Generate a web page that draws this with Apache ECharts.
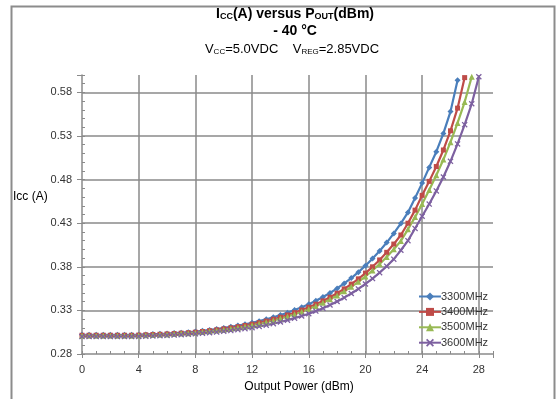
<!DOCTYPE html>
<html><head><meta charset="utf-8">
<script src="https://cdn.jsdelivr.net/npm/echarts@6/dist/echarts.min.js"></script>
<style>html,body{margin:0;padding:0;background:#fff}#c{width:557px;height:399px}</style>
</head><body><div id="c"></div>
<script>
// Output power steps (dBm)
const xSteps = [0,0.5,1,1.5,2,2.5,3,3.5,4,4.5,5,5.5,6,6.5,7,7.5,8,8.5,9,9.5,10,10.5,11,11.5,12,12.5,13,13.5,14,14.5,15,15.5,16,16.5,17,17.5,18,18.5,19,19.5,20,20.5,21,21.5,22,22.5,23,23.5,24,24.5,25,25.5,26,26.5,27,27.5,28];
const seriesNames = ['3300MHz','3400MHz','3500MHz','3600MHz'];
const icc3300 = [0.302,0.302,0.302,0.302,0.302,0.302,0.302,0.302,0.3022,0.3025,0.3028,0.3031,0.3035,0.304,0.3045,0.305,0.3057,0.3066,0.3076,0.3087,0.3099,0.3112,0.3126,0.3141,0.3158,0.3177,0.3198,0.3221,0.3246,0.3274,0.3304,0.3336,0.3371,0.341,0.3453,0.35,0.3552,0.3609,0.3671,0.3739,0.3813,0.3894,0.3982,0.4078,0.4183,0.4298,0.4424,0.459,0.476,0.494,0.512,0.533,0.558,0.594];
const icc3400 = [0.3015,0.3015,0.3015,0.3015,0.3015,0.3015,0.3015,0.3015,0.3017,0.302,0.3023,0.3026,0.303,0.3034,0.3039,0.3044,0.305,0.3058,0.3067,0.3077,0.3088,0.31,0.3113,0.3127,0.3142,0.3159,0.3178,0.3199,0.3222,0.3247,0.3274,0.3304,0.3336,0.3371,0.3409,0.3451,0.3497,0.3547,0.3602,0.3662,0.3728,0.38,0.3879,0.3966,0.4061,0.4165,0.430,0.445,0.462,0.478,0.495,0.514,0.536,0.562,0.597];
const icc3500 = [0.301,0.301,0.301,0.301,0.301,0.301,0.301,0.301,0.3012,0.3015,0.3018,0.3021,0.3025,0.3029,0.3034,0.3039,0.3045,0.3052,0.306,0.3069,0.3079,0.309,0.3102,0.3115,0.313,0.3146,0.3164,0.3184,0.3206,0.323,0.3256,0.3285,0.3316,0.335,0.3387,0.3427,0.3471,0.3519,0.3571,0.3628,0.369,0.3758,0.3832,0.3913,0.4001,0.4097,0.423,0.437,0.452,0.468,0.485,0.503,0.523,0.545,0.569,0.598];
const icc3600 = [0.300,0.300,0.300,0.300,0.300,0.300,0.300,0.300,0.3002,0.3004,0.3007,0.301,0.3013,0.3017,0.3021,0.3026,0.3031,0.3037,0.3044,0.3052,0.306,0.3069,0.3079,0.309,0.3102,0.3116,0.3131,0.3148,0.3167,0.3188,0.3211,0.3236,0.3262,0.3292,0.3325,0.3362,0.3402,0.3446,0.3494,0.3546,0.3603,0.3665,0.3733,0.3807,0.3888,0.399,0.410,0.424,0.438,0.452,0.467,0.483,0.501,0.521,0.543,0.567,0.598];
const xTickLabels = [0,4,8,12,16,20,24,28];
const yTickLabels = ['0.28','0.33','0.38','0.43','0.48','0.53','0.58'];

const colors = ['#4A7EBB','#BE4B48','#98B954','#7D60A0'];
const symbols = ['diamond','rect','triangle','path://M0,1.5L1.5,0L5,3.5L8.5,0L10,1.5L6.5,5L10,8.5L8.5,10L5,6.5L1.5,10L0,8.5L3.5,5Z'];
const symSizes = [6,5,6,6];
const allY = [icc3300, icc3400, icc3500, icc3600];

const chart = echarts.init(document.getElementById('c'), null, {renderer:'canvas'});
const FONT = 'Liberation Sans';
const gridCol = '#8a8a8a';
const option = {
  animation: false,
  textStyle: {fontFamily: FONT},
  grid: {left: 82, right: 64, top: 75, bottom: 45, containLabel: false},
  xAxis: [
    {type:'value', min:0, max:29, interval:1, position:'bottom',
     axisLine:{show:true, lineStyle:{color:gridCol, width:1.5}},
     axisTick:{show:true, inside:true, length:3, lineStyle:{color:gridCol}},
     axisLabel:{margin:10, fontSize:11, color:'#333', fontFamily:FONT,
       formatter: v => xTickLabels.indexOf(Math.round(v)) >= 0 && Math.abs(v-Math.round(v))<1e-6 ? String(Math.round(v)) : ''},
     splitLine:{show:false}},
    {type:'value', min:0, max:29, interval:4, position:'bottom',
     axisLine:{show:false},
     axisTick:{show:true, inside:false, length:4, lineStyle:{color:gridCol}},
     axisLabel:{show:false},
     splitLine:{show:true, showMinLine:false, showMaxLine:false, lineStyle:{color:gridCol, width:1.5}}}
  ],
  yAxis: [
    {type:'value', min:0.28, max:0.6, interval:0.01, position:'left',
     axisLine:{show:true, lineStyle:{color:gridCol, width:1.5}},
     axisTick:{show:true, inside:true, length:3, lineStyle:{color:gridCol}},
     axisLabel:{margin:10, fontSize:11, color:'#333', fontFamily:FONT,
       formatter: v => { const s=(Math.round(v*100)/100).toFixed(2); return yTickLabels.indexOf(s)>=0 ? s : ''; }},
     splitLine:{show:false}},
    {type:'value', min:0, max:0.32, interval:0.05, position:'left',
     axisLine:{show:false},
     axisTick:{show:true, inside:false, length:5, lineStyle:{color:gridCol}},
     axisLabel:{show:false},
     splitLine:{show:true, showMinLine:false, showMaxLine:false, lineStyle:{color:gridCol, width:1.5}}}
  ],
  legend: {
    orient:'vertical', left:413, top:286, itemWidth:22, itemHeight:10, itemGap:4.4,
    textStyle:{fontSize:11, color:'#333', fontFamily:FONT, padding:[0,0,0,-5]},
    data: seriesNames
  },
  series: seriesNames.map((n,i) => ({
    name:n, type:'line', xAxisIndex:0, yAxisIndex:0,
    data: allY[i].map((y,k) => [xSteps[k], y]),
    symbol: symbols[i], symbolSize: symSizes[i], showAllSymbol:true,
    lineStyle:{color:colors[i], width:2.2},
    itemStyle:{color:colors[i], borderColor:colors[i], borderWidth:0},
    color: colors[i], clip:true
  })),
  graphic: [
    {type:'rect', left:9, top:4, shape:{width:543, height:400}, style:{fill:'none', stroke:'#8c8c8c', lineWidth:2}, silent:true},
    {type:'text', x:295, y:13, style:{
      text:'{a|I}{s|CC}{a|(A) versus P}{s|OUT}{a|(dBm)}', align:'center', verticalAlign:'middle',
      rich:{a:{fontSize:14, fontWeight:'bold', fontFamily:FONT, fill:'#000', lineHeight:17, verticalAlign:'bottom'},
            s:{fontSize:9, fontWeight:'bold', fontFamily:FONT, fill:'#000', lineHeight:11, verticalAlign:'bottom'}}}},
    {type:'text', x:295, y:31, style:{text:'- 40 \u00b0C', align:'center', verticalAlign:'middle',
      font:'bold 14px "Liberation Sans"', fill:'#000'}},
    {type:'text', x:292, y:48, style:{
      text:'{a|V}{s|CC}{a|=5.0VDC    V}{s|REG}{a|=2.85VDC}', align:'center', verticalAlign:'middle',
      rich:{a:{fontSize:13, fontFamily:FONT, fill:'#000', lineHeight:16, verticalAlign:'bottom'},
            s:{fontSize:8, fontFamily:FONT, fill:'#000', lineHeight:10, verticalAlign:'bottom'}}}},
    {type:'text', x:13, y:197, style:{text:'Icc (A)', align:'left', verticalAlign:'middle',
      font:'12px "Liberation Sans"', fill:'#000'}},
    {type:'text', x:299, y:387, style:{text:'Output Power (dBm)', align:'center', verticalAlign:'middle',
      font:'12px "Liberation Sans"', fill:'#000'}}
  ]
};
chart.setOption(option);
</script></body></html>
